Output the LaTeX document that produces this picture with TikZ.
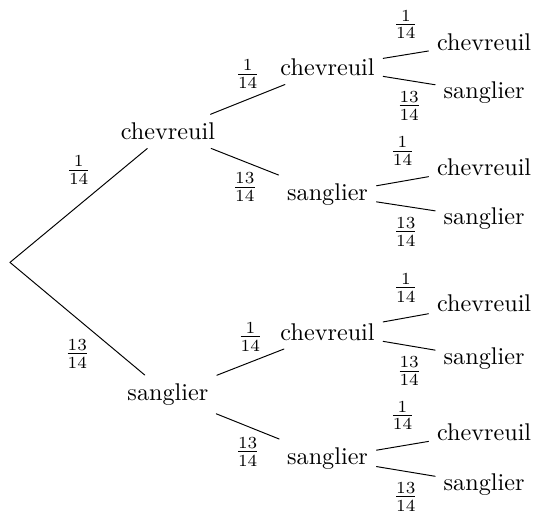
\documentclass[tikz,border=0pt]{standalone}
\begin{document}
\begin{tikzpicture}[x=1cm,y=1cm,scale=1,line cap=round,line join=round]
	\useasboundingbox (0,0) rectangle (7.76,7.49);
	\path (0.145,3.677)coordinate(O);
	% premier tirage
	\node (C) at (2.44,5.581) {chevreuil};
	\node (S) at (2.44,1.759) {sanglier};
	% second tirage
	\node (CC) at (4.76,6.51) {chevreuil};
	\node (CS) at (4.76,4.666) {sanglier};
	\node (SC) at (4.76,2.666) {chevreuil};
	\node (SS) at (4.76,0.828) {sanglier};
	% troisieme tirage
	\node (CCC) at (7.035,6.881) {chevreuil};
	\node (CCS) at (7.035,6.144) {sanglier};
	\node (CSC) at (7.035,5.064) {chevreuil};
	\node (CSS) at (7.035,4.317) {sanglier};
	\node (SCC) at (7.035,3.077) {chevreuil};
	\node (SCS) at (7.035,2.282) {sanglier};
	\node (SSC) at (7.035,1.212) {chevreuil};
	\node (SSS) at (7.035,0.451) {sanglier};
	\draw (O)--node[above=5pt]{$\frac{1}{14}$}(C);
	\draw (O)--node[below=5pt]{$\frac{13}{14}$}(S);
	\draw (C)--node[above=1pt]{$\frac{1}{14}$}(CC);
	\draw (C)--node[below=1pt]{$\frac{13}{14}$}(CS);
	\draw (S)--node[above=1pt]{$\frac{1}{14}$}(SC);
	\draw (S)--node[below=1pt]{$\frac{13}{14}$}(SS);
	\draw (CC)--node[above=3pt]{$\frac{1}{14}$}(CCC);
	\draw (CC)--node[below=1pt]{$\frac{13}{14}$}(CCS);
	\draw (CS)--node[above=3pt]{$\frac{1}{14}$}(CSC);
	\draw (CS)--node[below=1pt]{$\frac{13}{14}$}(CSS);
	\draw (SC)--node[above=3pt]{$\frac{1}{14}$}(SCC);
	\draw (SC)--node[below=1pt]{$\frac{13}{14}$}(SCS);
	\draw (SS)--node[above=3pt]{$\frac{1}{14}$}(SSC);
	\draw (SS)--node[below=1pt]{$\frac{13}{14}$}(SSS);
\end{tikzpicture}
\end{document}
